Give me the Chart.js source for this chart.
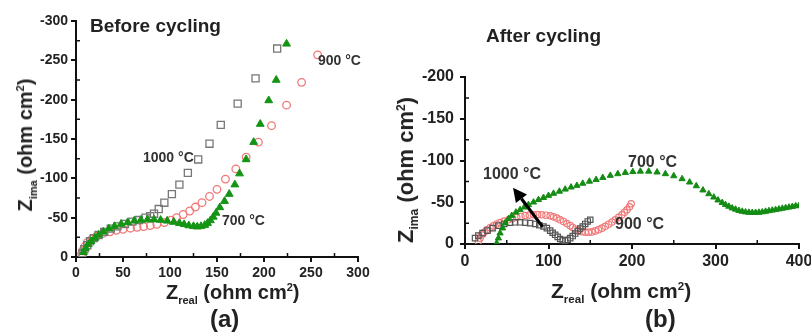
<!DOCTYPE html>
<html>
<head>
<meta charset="utf-8">
<script src="https://cdn.jsdelivr.net/npm/chart.js@4"></script>
<style>
body{margin:0;background:#fff;overflow:hidden;font-family:"Liberation Sans",Arial,sans-serif;color:#222}
#wrap{position:relative;width:811px;height:333px;overflow:hidden}
.box{position:absolute;top:0;height:333px}
.t{position:absolute;white-space:nowrap;line-height:1;font-weight:bold}
.t sub,.t sup{font-size:55%;line-height:0}
.rot{transform:translate(-50%,-50%) rotate(-90deg)}
</style>
</head>
<body>
<div id="wrap">
  <div class="box" style="left:0;width:400px"><canvas id="chartA"></canvas></div>
  <div class="box" style="left:400px;width:430px"><canvas id="chartB"></canvas></div>

  <div class="t" style="left:90px;top:16px;font-size:19px">Before cycling</div>
  <div class="t" style="left:143px;top:150px;font-size:14px;color:#333">1000 °C</div>
  <div class="t" style="left:318px;top:53px;font-size:14px;color:#333">900 °C</div>
  <div class="t" style="left:222px;top:213px;font-size:14px;color:#333">700 °C</div>
  <div class="t" style="left:166px;top:282px;font-size:20px">Z<sub>real</sub> (ohm cm<sup>2</sup>)</div>
  <div class="t rot" style="left:25px;top:145px;font-size:20px">Z<sub>ima</sub> (ohm cm<sup>2</sup>)</div>
  <div class="t" style="left:210px;top:307px;font-size:24px">(a)</div>

  <div class="t" style="left:486px;top:26px;font-size:19px">After cycling</div>
  <div class="t" style="left:483px;top:166px;font-size:16px;color:#333">1000 °C</div>
  <div class="t" style="left:628px;top:154px;font-size:16px;color:#333">700 °C</div>
  <div class="t" style="left:615px;top:216px;font-size:16px;color:#333">900 °C</div>
  <div class="t" style="left:551px;top:280px;font-size:21px">Z<sub>real</sub> (ohm cm<sup>2</sup>)</div>
  <div class="t rot" style="left:406px;top:170px;font-size:22px">Z<sub>ima</sub> (ohm cm<sup>2</sup>)</div>
  <div class="t" style="left:645px;top:307px;font-size:24px">(b)</div>
</div>

<script>
// before cycling, [Zreal, Zima]
var before1000 = [[7,-5],[9,-10],[12,-15],[15,-20],[19,-24],[24,-28],[30,-32],[37,-36],[44,-39],[52,-42],[60,-45],[67,-47],[74,-50],[79,-52],
  [83,-55],[88,-61],[94,-69],[102,-80],[110,-92],[119,-107],[130,-124],[142,-144],[154,-168],[172,-195],[191,-227],[214,-265]];
var before900 = [[6,-4],[7,-8],[9,-13],[12,-18.5],[17,-23],[22,-26.5],[29,-30],[36,-32],[43,-34],[50,-35.3],[58,-36.6],[65,-37.8],[72,-38.7],
  [79,-40],[86,-41.6],[94,-43.7],[101,-46.7],[107,-50],[114,-54],[121,-58.5],[127,-63.5],[134,-69],[142,-77],[150,-86],[159,-99],
  [170,-112],[181,-127],[194,-146],[208,-167],[224,-193],[240,-222],[257,-257]];
var before700 = [[8,-6],[10,-11],[13,-16],[16,-20],[20,-24],[24,-28],[29,-32],[35,-36],[41,-39],[48,-42],[55,-44],[62,-46],[69,-47],
  [76,-47.5],[83,-47.5],[90,-47],[97,-46],[104,-44.5],[110,-43],[115,-41.5],[120,-40],[125,-39],[129,-38.5],[133,-39],[137,-40.5],
  [140,-43],[143,-46.5],[146,-51],[149,-56],[153,-63],[158,-71],[163,-80],[169,-92],[174,-106],[181,-124],[189,-146],[196,-169],
  [205,-199],[213,-225],[224,-271]];

// after cycling
var after1000 = [[12,-7],[16,-10],[21,-13],[27,-16],[33,-19],[40,-22],[47,-24],[54,-25.5],[60,-26],[66,-26],[72,-25.5],[78,-25],
  [84,-24],[89,-22.5],[94,-21],[98,-19],[102,-16],[105,-13.5],[108,-11],[111,-8.5],[114,-6],[117,-4.5],[120,-4],[123,-5],[126,-7],
  [129,-9.5],[132,-12.5],[135,-15.5],[138,-18.5],[141,-21],[144,-24],[147,-27],[150,-29]];
var after900 = [[16,-3],[18,-7],[20,-11],[23,-14],[26,-17],[30,-19.5],[34,-21.7],[38,-24],[42,-25.7],[47,-27.5],[52,-29],[57,-30.5],
  [62,-32],[67,-33],[72,-34],[77,-34.6],[82,-35],[87,-35.2],[92,-35],[97,-34.5],[102,-33.7],[106,-32.5],[110,-31],[114,-29],[118,-27],
  [122,-24.5],[126,-22],[129,-19.8],[132,-17.7],[136,-16],[140,-14.8],[144,-14.2],[148,-14],[152,-14.5],[156,-15.7],[160,-17.2],
  [164,-19],[168,-21.2],[172,-23.7],[176,-26.3],[180,-29],[184,-32],[188,-35],[191,-38],[194,-41],[197,-44.5],[199,-48.2]];
var after700 = [[38,-1],[40,-7],[42,-13],[45,-19],[48,-25],[52,-30],[56,-34],[61,-38],[66,-41],[71,-44],[76,-47],[82,-50],[88,-53],
  [94,-55.5],[100,-58],[106,-60.5],[113,-63],[120,-65.5],[127,-68],[134,-70],[141,-72.5],[149,-75],[157,-77],[165,-79.5],[174,-82],
  [183,-84],[192,-85.5],[201,-86.5],[210,-87],[220,-87],[230,-86],[240,-84],[250,-81.5],[260,-78],[269,-74],[277,-69.5],[285,-64.5],
  [292,-60],[298,-56],[303,-52.5],[308,-49.5],[312,-47],[316,-45],[320,-43],[324,-41.5],[328,-40],[332,-39],[336,-38.2],[340,-37.8],
  [344,-37.6],[348,-37.6],[352,-37.8],[356,-38.3],[360,-39],[364,-39.7],[368,-40.4],[372,-41],[376,-41.8],[380,-42.6],[384,-43.3],
  [388,-44],[392,-44.8],[396,-45.5],[400,-46]];

// arrow in panel b (from -> to)
var arrowFrom = [93, -20.5];
var arrowTo = [57.5, -67.5];

function pts(list) {
  return list.map(function(p) { return {x: p[0], y: p[1]}; });
}

var FONT = '"Liberation Sans", Arial, sans-serif';

// small inward ticks halfway between the labelled ones
var minorTicks = {
  id: 'minorTicks',
  afterDraw: function(chart) {
    var ctx = chart.ctx, xs = chart.scales.x, ys = chart.scales.y, v, p;
    ctx.save();
    ctx.strokeStyle = '#111';
    ctx.lineWidth = 1.5;
    ctx.beginPath();
    for (v = xs.min + xs.options.ticks.stepSize / 2; v < xs.max; v += xs.options.ticks.stepSize) {
      p = xs.getPixelForValue(v);
      ctx.moveTo(p, ys.bottom);
      ctx.lineTo(p, ys.bottom - 4);
    }
    for (v = ys.min + ys.options.ticks.stepSize / 2; v < ys.max; v += ys.options.ticks.stepSize) {
      p = ys.getPixelForValue(v);
      ctx.moveTo(xs.left, p);
      ctx.lineTo(xs.left + 4, p);
    }
    ctx.stroke();
    ctx.restore();
  }
};

var arrow = {
  id: 'arrow',
  afterDatasetsDraw: function(chart) {
    var xs = chart.scales.x, ys = chart.scales.y, ctx = chart.ctx;
    var x1 = xs.getPixelForValue(arrowFrom[0]), y1 = ys.getPixelForValue(arrowFrom[1]);
    var x2 = xs.getPixelForValue(arrowTo[0]), y2 = ys.getPixelForValue(arrowTo[1]);
    var a = Math.atan2(y2 - y1, x2 - x1), len = 14, w = 7;
    var bx = x2 - len * Math.cos(a), by = y2 - len * Math.sin(a);
    ctx.save();
    ctx.strokeStyle = '#000';
    ctx.fillStyle = '#000';
    ctx.lineWidth = 3.2;
    ctx.beginPath();
    ctx.moveTo(x1, y1);
    ctx.lineTo(bx, by);
    ctx.stroke();
    ctx.beginPath();
    ctx.moveTo(x2, y2);
    ctx.lineTo(bx + w * Math.sin(a), by - w * Math.cos(a));
    ctx.lineTo(bx - w * Math.sin(a), by + w * Math.cos(a));
    ctx.closePath();
    ctx.fill();
    ctx.restore();
  }
};

function axis(min, max, step, fontSize, pad, fit) {
  return {
    type: 'linear',
    min: min,
    max: max,
    grid: {drawOnChartArea: false, color: '#111', lineWidth: 2, tickLength: 5},
    border: {color: '#111', width: 2},
    ticks: {stepSize: step, autoSkip: false, maxRotation: 0, padding: pad, color: '#222',
            font: {family: FONT, size: fontSize, weight: 'bold'}},
    afterFit: fit
  };
}

// first dataset is drawn on top
var chartA = new Chart(document.getElementById('chartA'), {
  type: 'scatter',
  data: {
    datasets: [
      {label: '700 °C', data: pts(before700), pointStyle: 'triangle', pointRadius: 4.5,
       borderColor: '#149414', backgroundColor: '#149414', borderWidth: 1},
      {label: '1000 °C', data: pts(before1000), pointStyle: 'rect', pointRadius: 5,
       borderColor: '#777', backgroundColor: 'rgba(0,0,0,0)', borderWidth: 1.3},
      {label: '900 °C', data: pts(before900), pointStyle: 'circle', pointRadius: 3.8,
       borderColor: '#f07878', backgroundColor: 'rgba(0,0,0,0)', borderWidth: 1.3}
    ]
  },
  options: {
    responsive: true,
    maintainAspectRatio: false,
    animation: false,
    layout: {padding: {left: 0, top: 21, right: 42, bottom: 46}},
    plugins: {legend: {display: false}, tooltip: {enabled: false}},
    scales: {
      x: axis(0, 300, 50, 14, 3, function(s) { s.height = 30; }),
      y: Object.assign(axis(-300, 0, 50, 14, 3, function(s) { s.width = 76; }), {reverse: true})
    }
  },
  plugins: [minorTicks]
});

var chartB = new Chart(document.getElementById('chartB'), {
  type: 'scatter',
  data: {
    datasets: [
      {label: '700 °C', data: pts(after700), pointStyle: 'triangle', pointRadius: 3.6,
       borderColor: '#148c14', backgroundColor: '#148c14', borderWidth: 1},
      {label: '1000 °C', data: pts(after1000), pointStyle: 'rect', pointRadius: 3.8,
       borderColor: '#555', backgroundColor: 'rgba(0,0,0,0)', borderWidth: 1.2},
      {label: '900 °C', data: pts(after900), pointStyle: 'circle', pointRadius: 3.2,
       borderColor: '#f07878', backgroundColor: 'rgba(0,0,0,0)', borderWidth: 1.2}
    ]
  },
  options: {
    responsive: true,
    maintainAspectRatio: false,
    animation: false,
    layout: {padding: {left: 0, top: 77, right: 31, bottom: 59}},
    plugins: {legend: {display: false}, tooltip: {enabled: false}},
    scales: {
      x: axis(0, 400, 100, 16, 3, function(s) { s.height = 30; }),
      y: Object.assign(axis(-200, 0, 50, 16, 6, function(s) { s.width = 65; }), {reverse: true})
    }
  },
  plugins: [minorTicks, arrow]
});
</script>
</body>
</html>
